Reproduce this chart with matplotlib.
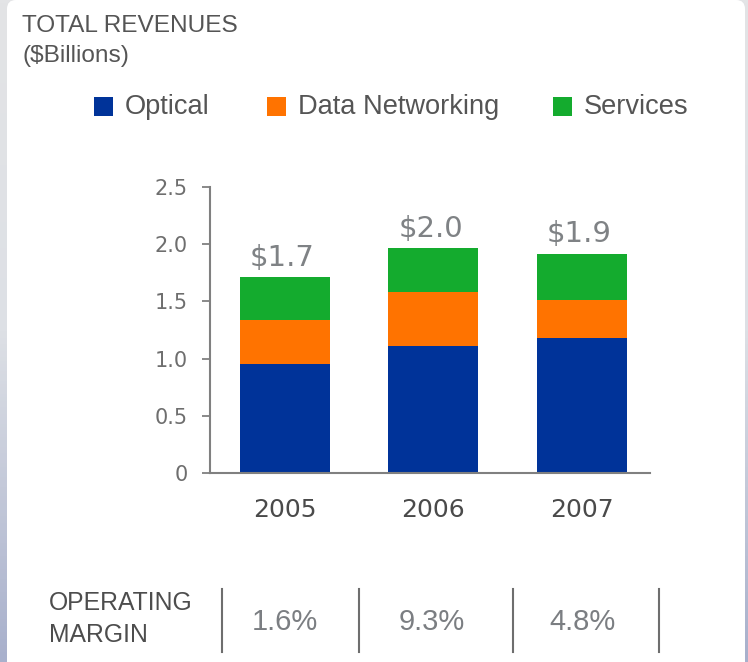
import numpy as np
import matplotlib
matplotlib.use('Agg')
import matplotlib.pyplot as plt
from matplotlib.patches import Rectangle, FancyBboxPatch
from matplotlib.colors import LinearSegmentedColormap

# data
years = ['2005', '2006', '2007']
optical = [0.95, 1.11, 1.18]
data_networking = [0.39, 0.47, 0.33]
services = [0.37, 0.39, 0.41]
total_labels = ['$1.7', '$2.0', '$1.9']
margins = ['1.6%', '9.3%', '4.8%']

blue = '#003399'
orange = '#ff7300'
green = '#14ab2e'
narrow = ['Liberation Sans', 'DejaVu Sans']

W, H = 748, 662
fig = plt.figure(figsize=(W / 100, H / 100), dpi=100)
fig.patch.set_facecolor('#e3e4e6')

# background in pixel coordinates: side strips + white rounded panel
bg = fig.add_axes([0, 0, 1, 1])
bg.set_zorder(-5)
bg.set_xlim(0, W)
bg.set_ylim(H, 0)
bg.axis('off')
grad = LinearSegmentedColormap.from_list('frame', ['#e3e4e6', '#dde0e5', '#a8b0cc'])
ramp = np.linspace(0, 1, 200).reshape(-1, 1)
bg.imshow(ramp, aspect='auto', cmap=grad, extent=(0, 8, H, 0))
bg.imshow(ramp, aspect='auto', cmap=grad, extent=(743, W, H, 0))
bg.add_patch(FancyBboxPatch((7, 0), 738, H + 20, boxstyle='round,pad=0,rounding_size=9',
                            facecolor='white', edgecolor='none'))
bg.set_xlim(0, W)
bg.set_ylim(H, 0)

# title
fig.text(22 / W, 1 - 26 / H, 'TOTAL REVENUES', family=narrow, fontsize=17.6, color='#555555',
         va='center', ha='left')
fig.text(22 / W, 1 - 56 / H, '($Billions)', family=narrow, fontsize=17.6, color='#555555',
         va='center', ha='left')

# legend
leg = [('Optical', blue, 94), ('Data Networking', orange, 267), ('Services', green, 553)]
for name, col, x0 in leg:
    bg.add_patch(Rectangle((x0, 97), 19, 19, facecolor=col, edgecolor='none'))
    fig.text((x0 + 31) / W, 1 - 107 / H, name, family=narrow, fontsize=19.6, color='#555555',
             va='center', ha='left')

# chart
ax = fig.add_axes([210 / W, 1 - 472.7 / H, 440 / W, 285.4 / H])
x = np.arange(len(years))
bw = 0.606
ax.bar(x, optical, bw, color=blue)
ax.bar(x, data_networking, bw, bottom=optical, color=orange)
bottom2 = np.array(optical) + np.array(data_networking)
ax.bar(x, services, bw, bottom=bottom2, color=green)
totals = bottom2 + np.array(services)
for xi, t, lab in zip(x, totals, total_labels):
    ax.annotate(lab, (xi, t), xytext=(-2, 8), textcoords='offset points', ha='center',
                va='baseline', fontsize=21, color='#7f8285')

ax.set_xlim(-0.505, 2.458)
ax.set_ylim(0, 2.5)
ax.set_yticks([0, 0.5, 1.0, 1.5, 2.0, 2.5])
ax.set_yticklabels(['0', '0.5', '1.0', '1.5', '2.0', '2.5'])
ax.set_xticks(x)
ax.set_xticklabels(years)
ax.tick_params(axis='y', length=6, width=1.3, color='#808080', pad=10,
               labelsize=15, labelcolor='#6e6e6e')
ax.tick_params(axis='x', length=0, pad=18, labelsize=18, labelcolor='#4a4a4a')
for s in ['top', 'right']:
    ax.spines[s].set_visible(False)
for s in ['left', 'bottom']:
    ax.spines[s].set_color('#808080')
    ax.spines[s].set_linewidth(1.5)
ax.patch.set_alpha(0)

# operating margin row
fig.text(49 / W, 1 - 603 / H, 'OPERATING', family=narrow, fontsize=17.8, color='#4d4d4d',
         va='center', ha='left')
fig.text(49 / W, 1 - 635 / H, 'MARGIN', family=narrow, fontsize=17.8, color='#4d4d4d',
         va='center', ha='left')
seps = [222, 359, 513, 659]
for sx in seps:
    bg.plot([sx, sx], [589, 652], color='#6e6e6e', lw=1.5)
for m, cx in zip(margins, [285, 432, 582]):
    fig.text(cx / W, 1 - 622 / H, m, family=narrow, fontsize=21, color='#7b7e82',
             va='center', ha='center')

fig.savefig('out.png', dpi=100, facecolor=fig.get_facecolor())
